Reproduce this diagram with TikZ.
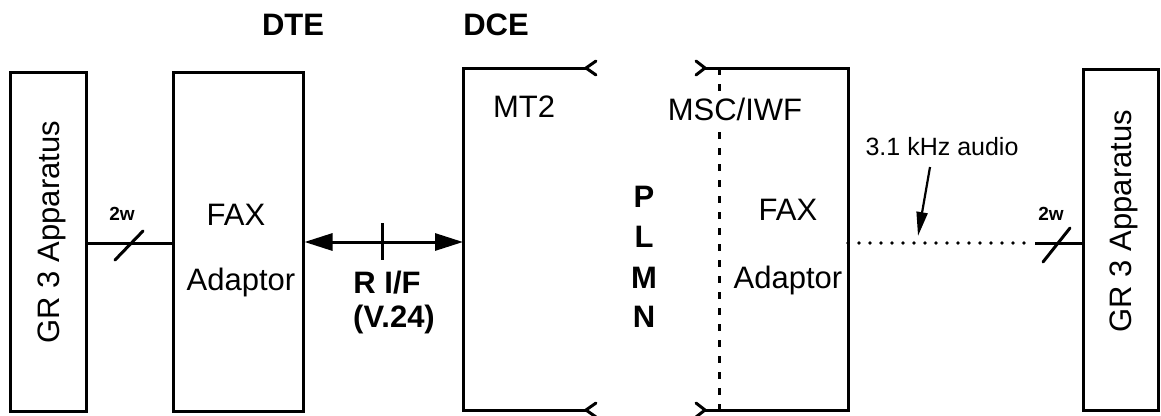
\documentclass[tikz,border=0pt]{standalone}
\usepackage{fontspec}
\setmainfont{Liberation Sans}
\usetikzlibrary{arrows.meta}
\tikzset{
  box/.style={draw, line width=3pt, inner sep=0pt},
  wire/.style={line width=3pt},
  big/.style={font=\fontsize{31}{36}\selectfont, inner sep=0pt},
  bigb/.style={font=\fontsize{31}{36}\selectfont\bfseries, inner sep=0pt},
  small/.style={font=\fontsize{19}{22}\selectfont\bfseries, inner sep=0pt},
  note/.style={font=\fontsize{25}{29}\selectfont, inner sep=0pt},
  dotv/.style={line width=3pt, dash pattern=on 7pt off 9pt},
  doth/.style={line width=3.8pt, line cap=round, dash pattern=on 0pt off 11pt},
}
\begin{document}
\begin{tikzpicture}[x=1pt, y=-1pt]
\useasboundingbox (0,0) rectangle (1161,415);
% boxes
\node[box, minimum width=76pt, minimum height=339pt] (gl) at (48,242) {};
\node[box, minimum width=130pt, minimum height=339pt] (fl) at (238,242) {};
\node[box, minimum width=75pt, minimum height=341pt] (gr) at (1120.5,240) {};
% MT2 open box
\coordinate (mtt) at (586,68);
\coordinate (mtb) at (586,410);
\coordinate (mtl) at (463,242);
\draw[wire, line join=miter] (mtt) -- (463,68) -- (463,410) -- (mtb);
\draw[wire, line cap=round] (596,61) -- (mtt) -- (596,75);
\draw[wire, line cap=round] (596,403) -- (mtb) -- (596,417);
% MSC/IWF open box
\coordinate (mst) at (705,68);
\coordinate (msb) at (705,410);
\coordinate (msr) at (848,243);
\draw[wire, line join=miter] (mst) -- (848,68) -- (848,410) -- (msb);
\draw[wire, line cap=round] (696,61) -- (mst) -- (696,75);
\draw[wire, line cap=round] (696,403) -- (msb) -- (696,417);
\coordinate (dvt) at (719,68);
\coordinate (dvb) at (719,410);
\draw[dotv] (dvt) -- (dvb);
% left connection
\draw[wire] (gl.east |- 0,243) -- (fl.west |- 0,243);
\coordinate (s1a) at (115,260);
\coordinate (s1b) at (143,231);
\draw[wire, line cap=round] (s1a) -- (s1b);
\node[small, anchor=base] (w1) at (122,220) {2w};
% R I/F arrow
\draw[wire, {Triangle[length=28pt,width=17pt]}-{Triangle[length=28pt,width=17pt]}] (fl.east |- 0,242) -- (mtl);
\coordinate (t1) at (382,223);
\coordinate (t2) at (382,260);
\draw[wire] (t1) -- (t2);
\node[bigb, anchor=base] (rif) at (387,293) {R I/F};
\node[bigb, anchor=base] (v24) at (394,327) {(V.24)};
% right connection
\coordinate (dh) at (1027,243);
\draw[doth] (msr) -- (dh);
\coordinate (sl) at (1035,243);
\draw[wire] (sl) -- (gr.west |- 0,243);
\coordinate (s2a) at (1043,262);
\coordinate (s2b) at (1070,228);
\draw[wire, line cap=round] (s2a) -- (s2b);
\node[small, anchor=base] (w2) at (1051,220) {2w};
\node[note, anchor=base] (khz) at (942,155) {3.1 kHz audio};
\coordinate (ka) at (930,167);
\coordinate (kb) at (918,236);
\draw[line width=2.2pt, -{Triangle[length=24pt,width=11pt]}] (ka) -- (kb);
% texts
\node[big, rotate=90] (tgl) at (52,232) {GR 3 Apparatus};
\node[big, rotate=90] (tgr) at (1124,221) {GR 3 Apparatus};
\node[big, anchor=base] (fax1) at (236,225) {FAX};
\node[big, anchor=base] (ad1) at (241,290) {Adaptor};
\node[big, anchor=base] (mt2) at (524,117) {MT2};
\node[big, anchor=base, fill=white, inner sep=3pt] (msc) at (735,120) {MSC/IWF};
\node[big, anchor=base] (fax2) at (788,220) {FAX};
\node[big, anchor=base] (ad2) at (788,288) {Adaptor};
\node[bigb, anchor=base] (dte) at (293,35) {DTE};
\node[bigb, anchor=base] (dce) at (496,35) {DCE};
\node[bigb, anchor=base] (p) at (644,207) {P};
\node[bigb, anchor=base] (l) at (644,247) {L};
\node[bigb, anchor=base] (m) at (644,288) {M};
\node[bigb, anchor=base] (n) at (644,327) {N};
\end{tikzpicture}
\end{document}
